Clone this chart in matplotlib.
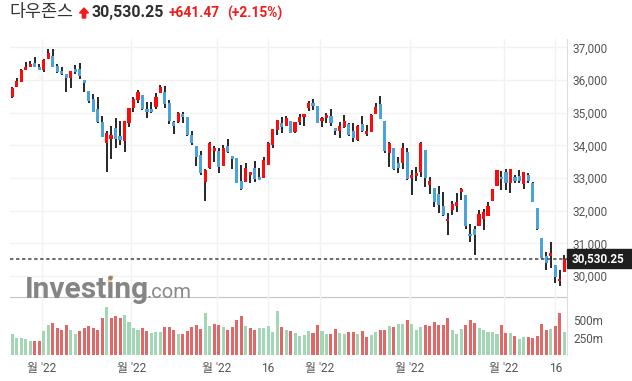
import numpy as np
import matplotlib
matplotlib.use("Agg")
from matplotlib import pyplot as plt
from matplotlib.patches import Polygon, Rectangle

# Daily candles, Dec 22 2021 .. Jun 21 2022
opens = [35490, 35796, 35949, 36306, 36408, 36520, 36398, 36306, 36652, 36734,
         36428, 36275, 36184, 36072, 36336, 36336, 36000, 35664, 35419, 35114,
         34716, 34085, 34197, 34523, 34289, 34146, 34696, 35155, 35389, 35542,
         35104, 35104, 35185, 35613, 35624, 35287, 34706, 34706, 34961, 34859,
         34319, 33993, 33708, 32862, 33300, 33830, 33830, 33371, 33983, 33677,
         33605, 32912, 32892, 33096, 33300, 33035, 33014, 33402, 34013, 34472,
         34696, 34604, 34757, 34421, 34726, 34859, 35134, 35307, 35205, 34757,
         34828, 34900, 34543, 34451, 34573, 34655, 34441, 34166, 34655, 34349,
         34420, 34960, 35266, 34746, 33758, 33911, 33452, 33452, 33788, 32994,
         33075, 33197, 33860, 32790, 32688, 32515, 32148, 31669, 32005, 32148,
         32586, 32484, 31292, 31445, 31516, 31740, 31822, 32281, 32759, 33045,
         33198, 32841, 33024, 33065, 32820, 33096, 32861, 32076, 31159, 30620,
         30599, 30344, 29835, 30110]
highs = [35796, 36051, 36326, 36540, 36571, 36693, 36489, 36642, 36938, 36938,
         36489, 36387, 36184, 36275, 36459, 36510, 36000, 35664, 35562, 35491,
         34900, 34441, 34594, 34828, 34757, 34747, 35155, 35471, 35695, 35542,
         35338, 35338, 35593, 35848, 35817, 35389, 34747, 35032, 35032, 34859,
         34442, 33993, 33840, 33270, 34095, 33983, 33912, 34014, 34187, 33677,
         33605, 33402, 33473, 33188, 33534, 33300, 33636, 34115, 34492, 34777,
         34879, 34900, 34757, 34716, 34961, 34961, 35368, 35409, 35205, 34859,
         34981, 35103, 34543, 34706, 34930, 34675, 34675, 34624, 34899, 34624,
         34960, 35307, 35511, 34746, 34115, 33911, 33656, 34064, 33911, 33248,
         33350, 34115, 33860, 33045, 32708, 32769, 32586, 31924, 32301, 32535,
         32698, 32484, 31598, 31537, 32005, 32046, 32250, 32668, 33249, 33228,
         33269, 33269, 33096, 33249, 33198, 33167, 32892, 32076, 31159, 30721,
         31027, 30344, 30171, 30650]
lows = [35440, 35786, 35929, 36306, 36408, 36387, 36306, 36255, 36652, 36408,
        36204, 36153, 35644, 35766, 36173, 36021, 35644, 35287, 35032, 34696,
        34248, 33177, 33575, 33911, 34014, 33810, 34574, 35012, 35308, 35084,
        34829, 34982, 35104, 35613, 35134, 34645, 34350, 34676, 34676, 34289,
        34014, 33372, 33096, 32281, 33270, 33504, 33147, 33371, 33779, 33269,
        32841, 32617, 32892, 32841, 32892, 32923, 33014, 33402, 33911, 34319,
        34370, 34604, 34370, 34370, 34624, 34594, 35063, 35083, 34696, 34573,
        34675, 34594, 34319, 34216, 34522, 34298, 34115, 34145, 34420, 34298,
        34400, 34960, 34807, 33778, 33350, 33248, 33146, 33269, 32943, 32484,
        32922, 33045, 32718, 32515, 32127, 31924, 31822, 31261, 31873, 31944,
        32331, 31435, 31027, 30650, 31516, 31394, 31822, 32281, 32759, 32637,
        32637, 32535, 32841, 32841, 32668, 32861, 32280, 31414, 30518, 30191,
        30242, 29784, 29682, 30110]
closes = [35766, 35970, 36306, 36387, 36489, 36408, 36316, 36612, 36815, 36408,
          36255, 36184, 36072, 36275, 36245, 36122, 35919, 35358, 35032, 34727,
          34268, 34370, 34319, 34187, 34166, 34747, 35155, 35420, 35634, 35104,
          35012, 35012, 35471, 35776, 35257, 34747, 34594, 35002, 34880, 34319,
          34085, 33637, 33147, 33249, 34065, 33932, 33331, 33932, 33810, 33585,
          32841, 32658, 33300, 33188, 32963, 32943, 33554, 34085, 34492, 34777,
          34573, 34828, 34370, 34716, 34879, 34961, 35307, 35215, 34696, 34828,
          34930, 34675, 34451, 34593, 34746, 34318, 34237, 34593, 34451, 34441,
          34930, 35164, 34807, 33829, 34084, 33269, 33320, 33911, 32963, 33096,
          33146, 34064, 33014, 32912, 32250, 32178, 31852, 31750, 32209, 32250,
          32668, 31516, 31210, 31261, 31903, 31964, 32148, 32668, 33249, 32963,
          32841, 33269, 32922, 32922, 33198, 32922, 32280, 31435, 30548, 30395,
          30701, 29967, 29906, 30530]
# volume in millions, and whether the volume bar is drawn green (1) or red (0)
volumes = [296, 248, 248, 234, 205, 205, 205, 349, 436, 465,
           393, 364, 436, 364, 306, 349, 393, 421, 393, 364,
           523, 682, 523, 552, 523, 566, 479, 393, 364, 393,
           349, 320, 335, 335, 407, 407, 364, 306, 306, 349,
           407, 436, 378, 595, 421, 450, 436, 407, 364, 407,
           494, 552, 421, 393, 364, 393, 393, 421, 335, 624,
           407, 364, 349, 320, 277, 291, 349, 320, 436, 349,
           306, 306, 378, 320, 306, 335, 335, 306, 349, 263,
           291, 335, 364, 364, 421, 407, 450, 450, 508, 450,
           364, 407, 436, 421, 479, 436, 436, 523, 364, 306,
           378, 436, 508, 465, 393, 364, 335, 335, 306, 436,
           320, 320, 277, 234, 263, 263, 248, 277, 450, 364,
           378, 421, 595, 335]
vol_up = [1, 1, 1, 1, 1, 0, 0, 1, 1, 0,
          0, 0, 0, 1, 1, 0, 0, 0, 0, 0,
          0, 1, 0, 0, 0, 1, 1, 1, 1, 0,
          0, 1, 1, 1, 0, 0, 0, 1, 0, 0,
          0, 0, 0, 1, 1, 0, 0, 1, 0, 0,
          0, 0, 1, 0, 0, 1, 1, 1, 1, 1,
          0, 1, 0, 1, 1, 1, 1, 0, 0, 1,
          1, 0, 0, 1, 1, 0, 0, 1, 0, 0,
          1, 1, 0, 0, 1, 0, 1, 1, 0, 1,
          1, 1, 0, 0, 0, 0, 0, 0, 1, 1,
          1, 0, 0, 0, 1, 1, 1, 1, 1, 0,
          0, 1, 0, 1, 1, 0, 0, 0, 0, 0,
          1, 0, 0, 1]

tick_idx = [7, 27, 46, 57, 69, 89, 110, 121]
tick_labels = ["월 '22", "월 '22", "월 '22", "16", "월 '22", "월 '22", "월 '22", "16"]
price_ticks = [30000, 31000, 32000, 33000, 34000, 35000, 36000, 37000]
vol_ticks = [250, 500]

title = "다우존스"
last_price = 30530.25
change = "+641.47"
change_pct = "(+2.15%)"

W, H = 632, 381
UP = "#ff0a0a"
DOWN = "#4ba2dc"
VOL_UP = "#a3d6b4"
VOL_DOWN = "#e06868"
GRID = "#f2f2f2"
LABEL = "#555555"
FONT = ["Roboto", "Noto Sans CJK KR", "DejaVu Sans"]


def fx(x):
    return x / W


def fy(y):
    return 1 - y / H


fig = plt.figure(figsize=(W / 100, H / 100), dpi=100)
ax = fig.add_axes([fx(10), fy(297), fx(567) - fx(10), fy(39) - fy(297)])
axv = fig.add_axes([fx(10), fy(355), fx(567) - fx(10), fy(297) - fy(355)], sharex=ax)

x = np.arange(len(closes))
o = np.array(opens)
c = np.array(closes)
up = c >= o
colors = np.where(up, UP, DOWN)
bottom = np.minimum(o, c)
height = np.maximum(np.abs(c - o), 25)

# candles
ax.vlines(x, lows, highs, color="#262626", lw=1.4, zorder=2)
ax.bar(x, height, bottom=bottom, width=0.7, color=colors, linewidth=0, zorder=3)
ax.axhline(last_price, color="#444444", lw=1.1, dashes=(2.2, 1.75), zorder=4)

# volume
vcol = [VOL_UP if v else VOL_DOWN for v in vol_up]
axv.bar(x, volumes, width=0.68, color=vcol, linewidth=0, zorder=3)

tick_pos = [i if lab == "16" else i - 0.45 for i, lab in zip(tick_idx, tick_labels)]

ax.set_xlim(-0.52, 123.6)
ax.set_ylim(29357, 37254)
axv.set_ylim(0, 830)

ax.set_xticks(tick_pos)
ax.tick_params(axis="x", length=0, labelbottom=False)
ax.set_yticks(price_ticks)
ax.set_yticklabels([f"{p:,}" for p in price_ticks])
ax.yaxis.tick_right()
ax.tick_params(axis="y", length=0, pad=4.3, labelsize=8.5, labelcolor=LABEL)
ax.grid(True, color=GRID, lw=1, zorder=0)

axv.set_yticks(vol_ticks)
axv.set_yticklabels([f"{v}m" for v in vol_ticks])
axv.yaxis.tick_right()
axv.tick_params(axis="y", length=0, pad=4.3, labelsize=8.5, labelcolor=LABEL)
axv.set_xticks(tick_pos)
axv.set_xticklabels(tick_labels)
axv.tick_params(axis="x", length=0, pad=5, labelsize=8.6, labelcolor=LABEL)
axv.grid(True, axis="x", color=GRID, lw=1, zorder=0)

for lab in ax.get_yticklabels() + axv.get_yticklabels() + axv.get_xticklabels():
    lab.set_family(FONT)

for a in (ax, axv):
    a.spines["top"].set_visible(False)
    a.spines["left"].set_visible(False)
    a.spines["right"].set_color("#dedede")
    a.set_facecolor("none")
ax.spines["bottom"].set_color("#c4c4c4")
axv.spines["bottom"].set_visible(False)

# watermark
fig.text(fx(25), fy(298), "Investing", fontsize=21.5, fontweight="bold",
         color="#858585", family=FONT, va="baseline", ha="left", zorder=1)
fig.text(fx(147), fy(298), ".com", fontsize=14.5, color="#8a8a8a",
         family=FONT, va="baseline", ha="left", zorder=1)
fig.patches.append(Polygon([[fx(108), fy(281)], [fx(110), fy(276)], [fx(113), fy(276)],
                            [fx(111), fy(281)]], closed=True, color="#f6c46e",
                           transform=fig.transFigure, figure=fig))

# header
fig.text(fx(9), fy(12.5), title, fontsize=12.5, color="#333333",
         family=["Noto Sans CJK KR", "DejaVu Sans"], va="center", ha="left")
fig.patches.append(Polygon([[fx(84), fy(8)], [fx(79.5), fy(13)], [fx(82.3), fy(13)],
                            [fx(82.3), fy(18)], [fx(85.7), fy(18)], [fx(85.7), fy(13)],
                            [fx(88.5), fy(13)]], closed=True, color="#f21a1a",
                           transform=fig.transFigure, figure=fig))
fig.text(fx(92), fy(12.5), f"{last_price:,.2f}", fontsize=11.4, fontweight="bold",
         color="#2f2f2f", family=FONT, va="center", ha="left")
fig.text(fx(169), fy(13), change, fontsize=9.9, fontweight="bold",
         color="#f21a1a", family=FONT, va="center", ha="left")
fig.text(fx(227), fy(13), change_pct, fontsize=9.9, fontweight="bold",
         color="#f21a1a", family=FONT, va="center", ha="left")

# last price tag on the axis
fig.patches.append(Rectangle((fx(567), fy(268)), fx(632) - fx(567), fy(249) - fy(268),
                             color="#1f1f1f", transform=fig.transFigure, figure=fig))
fig.text(fx(572), fy(258.5), f"{last_price:,.2f}", fontsize=8.4, fontweight="bold",
         color="white", family=FONT, va="center", ha="left")

fig.savefig("out.png", dpi=100)
